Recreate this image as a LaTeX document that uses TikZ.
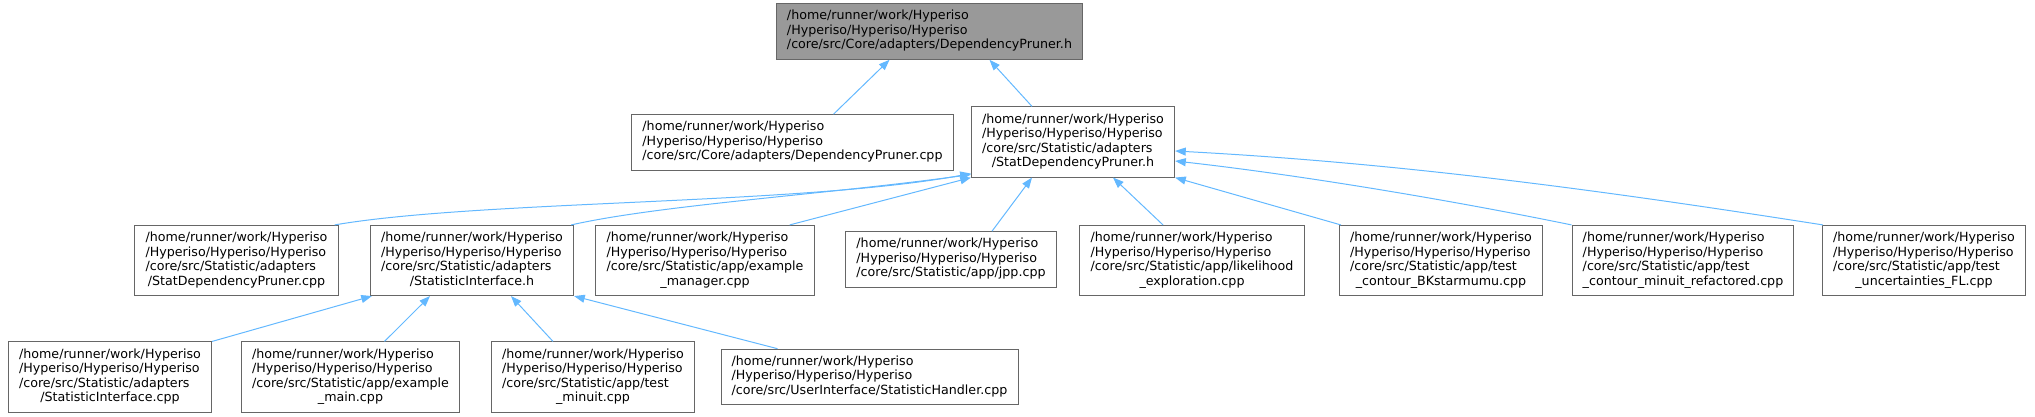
\documentclass[tikz,border=0pt]{standalone}
\usepackage{fontspec}
\setmainfont{DejaVu Sans}
\usetikzlibrary{arrows.meta, calc}
\definecolor{grey40}{HTML}{666666}
\definecolor{grey60}{HTML}{999999}
\definecolor{steelblue1}{HTML}{63B8FF}

\newcommand{\hpath}[2]{\begin{tabular}{@{}l@{}}/home/runner/work/Hyperiso\\/Hyperiso/Hyperiso/Hyperiso\\#1\\\multicolumn{1}{@{}c@{}}{#2}\end{tabular}}
\newcommand{\hpathshort}[1]{\begin{tabular}{@{}l@{}}/home/runner/work/Hyperiso\\/Hyperiso/Hyperiso/Hyperiso\\#1\end{tabular}}

\begin{document}
\begin{tikzpicture}[x=0.75pt, y=-0.75pt,
  file/.style={draw=grey40, line width=0.75pt, fill=white, inner xsep=8pt, inner ysep=4.5pt, font=\fontsize{9.5}{10.9}\selectfont},
  focus/.style={file, fill=grey60},
  inc/.style={draw=steelblue1, line width=0.75pt, -{Triangle[length=8pt, width=6pt]}}]
  \useasboundingbox (0,0) rectangle (2035,417);

  \node[focus] (top) at (929.5, 31.5) {\hpathshort{/core/src/Core/adapters/DependencyPruner.h}};
  \node[file] (dpcpp) at (792.5, 142.5) {\hpathshort{/core/src/Core/adapters/DependencyPruner.cpp}};
  \node[file] (sdph) at (1073, 142) {\hpath{/core/src/Statistic/adapters}{/StatDependencyPruner.h}};

  \node[file] (sdpcpp) at (236.5, 260.5) {\hpath{/core/src/Statistic/adapters}{/StatDependencyPruner.cpp}};
  \node[file] (sih) at (472, 260.5) {\hpath{/core/src/Statistic/adapters}{/StatisticInterface.h}};
  \node[file] (exmgr) at (705, 260.5) {\hpath{/core/src/Statistic/app/example}{\_manager.cpp}};
  \node[file] (jpp) at (951, 259.5) {\hpathshort{/core/src/Statistic/app/jpp.cpp}};
  \node[file] (likeli) at (1192, 260.5) {\hpath{/core/src/Statistic/app/likelihood}{\_exploration.cpp}};
  \node[file] (bks) at (1441, 260.5) {\hpath{/core/src/Statistic/app/test}{\_contour\_BKstarmumu.cpp}};
  \node[file] (minref) at (1683, 260.5) {\hpath{/core/src/Statistic/app/test}{\_contour\_minuit\_refactored.cpp}};
  \node[file] (uncfl) at (1924, 260.5) {\hpath{/core/src/Statistic/app/test}{\_uncertainties\_FL.cpp}};

  \node[file] (sicpp) at (110, 377) {\hpath{/core/src/Statistic/adapters}{/StatisticInterface.cpp}};
  \node[file] (exmain) at (350.5, 377) {\hpath{/core/src/Statistic/app/example}{\_main.cpp}};
  \node[file] (tmin) at (593, 377) {\hpath{/core/src/Statistic/app/test}{\_minuit.cpp}};
  \node[file] (shcpp) at (869.5, 377) {\hpathshort{/core/src/UserInterface/StatisticHandler.cpp}};

  % includes of DependencyPruner.h
  \draw[inc] ($(dpcpp.north)+(41,0)$) -- ($(top.south)+(-40,0)$);
  \draw[inc] ($(sdph.north)+(-41,0)$) -- ($(top.south)+(60,0)$);

  % includes of StatDependencyPruner.h
  \draw[inc] ($(sdpcpp.north east)+(-4,0)$) .. controls (480,200) and (800,205) .. ($(sdph.south west)+(0,-4)$);
  \draw[inc] ($(sih.north east)+(-3,0)$) .. controls (660,205) and (820,195) .. ($(sdph.south west)+(0,-3)$);
  \draw[inc] ($(exmgr.north east)+(-25,0)$) -- (sdph.south west);
  \draw[inc] ($(jpp.north)+(41,0)$) -- ($(sdph.south)+(-41,0)$);
  \draw[inc] ($(likeli.north)+(-29,0)$) -- ($(sdph.south)+(40,0)$);
  \draw[inc] ($(bks.north west)+(2,0)$) -- (sdph.south east);
  \draw[inc] (minref.north west) .. controls (1450,200) and (1300,175) .. ($(sdph.east)+(0,19)$);
  \draw[inc] ($(uncfl.north west)+(1,0)$) .. controls (1600,190) and (1400,163) .. ($(sdph.east)+(0,9)$);

  % includes of StatisticInterface.h
  \draw[inc] (sicpp.north east) -- ($(sih.south west)+(2,0)$);
  \draw[inc] ($(exmain.north)+(34,0)$) -- ($(sih.south)+(-42,0)$);
  \draw[inc] ($(tmin.north)+(-40,0)$) -- ($(sih.south)+(39,0)$);
  \draw[inc] ($(shcpp.north)+(-92,0)$) -- (sih.south east);
\end{tikzpicture}
\end{document}
